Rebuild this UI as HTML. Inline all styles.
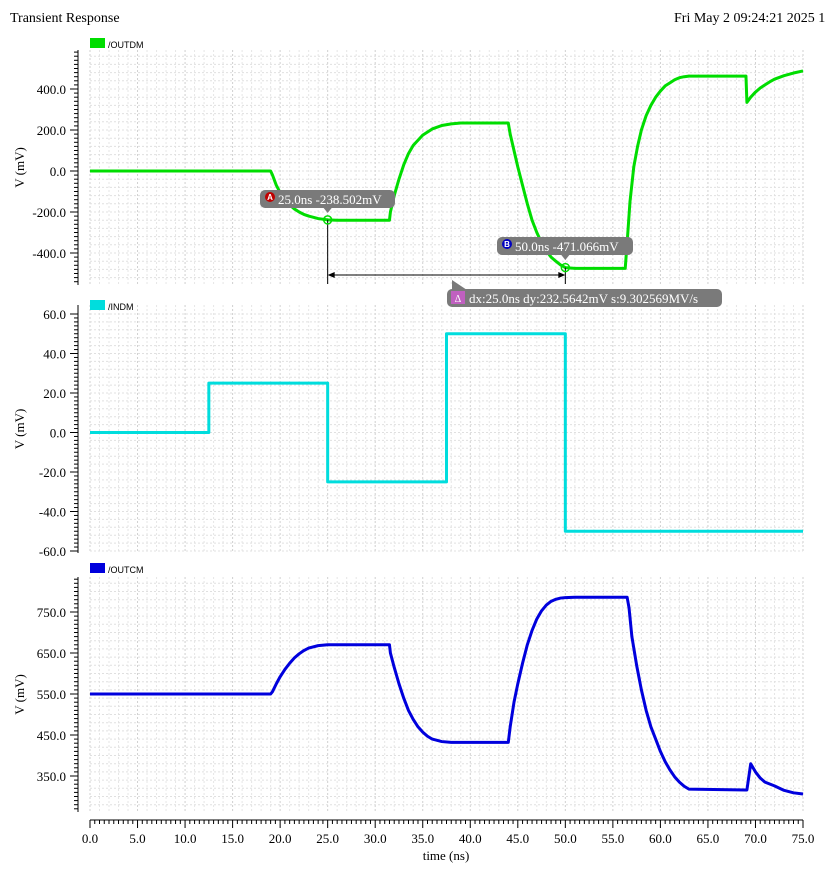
<!DOCTYPE html>
<html><head><meta charset="utf-8"><style>
body{margin:0;background:#fff;}
svg{display:block;font-family:"Liberation Serif",serif;}
</style></head><body>
<svg id="c" width="835" height="869">
<text x="10" y="22" font-size="14">Transient Response</text>
<text x="674" y="22" font-size="14">Fri May 2 09:24:21 2025  1</text>
</svg>
<script>
const outdmT=[0,19,19.2,19.6,20,20.5,21,21.5,22,22.5,23,24,25,26,31.5,31.6,32,32.5,33,33.5,34,35,36,37,38,39,44,44.2,44.6,45,45.5,46,46.5,47,47.5,48,48.5,49,49.5,50,51,56.3,56.5,56.8,57.2,57.6,58,58.5,59,59.5,60,60.5,61,61.5,62,62.5,63,69,69.1,69.5,70,70.5,71,71.5,72,73,74,75];
const outdmV=[0,0,-20,-70,-105,-140,-165,-185,-200,-212,-220,-232,-238.5,-240,-240,-200,-120,-40,30,85,125,175,205,222,230,234,234,180,100,20,-70,-160,-240,-300,-350,-390,-420,-440,-458,-471,-475,-475,-350,-150,20,120,200,270,320,360,390,415,430,445,455,460,463,463,335,360,385,405,420,435,448,465,478,488];
const indmT=[0,12.5,12.5,25,25,37.5,37.5,50,50,75];
const indmV=[0,0,25,25,-25,-25,50,50,-50,-50];
const outcmT=[0,19,19.2,19.6,20,20.5,21,21.5,22,22.5,23,24,25,31.5,31.6,32,32.5,33,33.5,34,34.5,35,35.5,36,37,38,39,44,44.2,44.6,45,45.5,46,46.5,47,47.5,48,48.5,49,49.5,50,51,56.5,56.7,57,57.5,58,58.5,59,59.5,60,60.5,61,61.5,62,62.5,63,69,69.1,69.5,70,70.5,71,72,73,74,75];
const outcmV=[550,550,556,575,592,610,625,638,648,656,662,668,670,670,650,615,575,540,510,488,470,457,447,440,434,432,432,432,470,530,575,625,670,705,733,753,767,776,781,784,785,786,786,760,690,620,560,510,470,440,410,385,365,348,335,325,318,316,316,380,360,345,335,326,315,309,306,304];
const xTicks=[0,5,10,15,20,25,30,35,40,45,50,55,60,65,70,75];
const p1Ticks=[400,200,0,-200,-400];
const p2Ticks=[60,40,20,0,-20,-40,-60];
const p3Ticks=[750,650,550,450,350];

const svg=document.getElementById('c');
const NS='http://www.w3.org/2000/svg';
function el(t,a,p){const e=document.createElementNS(NS,t);for(const k in a)e.setAttribute(k,a[k]);(p||svg).appendChild(e);return e;}
const X0=90,X1=803;
const xs=t=>X0+(t/75)*(X1-X0);
const panels=[
 {name:'outdm',top:50,bot:285,v0:400,y0:89,v1:0,y1:171,min:-560,max:590,grid:40,minor:20,ticks:p1Ticks,T:outdmT,V:outdmV,color:'#00dd00',label:'/OUTDM',ly:38},
 {name:'indm',top:305,bot:553,v0:60,y0:314,v1:-60,y1:551,min:-60,max:60,grid:4,minor:2,ticks:p2Ticks,T:indmT,V:indmV,color:'#00dddd',label:'/INDM',ly:300},
 {name:'outcm',top:577,bot:812,v0:750,y0:612,v1:350,y1:776,min:263,max:840,grid:20,minor:10,ticks:p3Ticks,T:outcmT,V:outcmV,color:'#0000dd',label:'/OUTCM',ly:563}
];
panels.forEach(p=>{
 const ys=v=>p.y0+(v-p.v0)*(p.y1-p.y0)/(p.v1-p.v0);
 const g=el('g',{});
 
 
 for(let t=0;t<=75;t++){el('line',{x1:xs(t),x2:xs(t),y1:p.top,y2:p.bot,stroke:t%5==0?'#d0d0d0':'#e6e6e6','stroke-dasharray':'2,2','stroke-width':1},g);}
 let start=Math.ceil(p.min/p.grid)*p.grid;
 for(let v=start;v<=p.max;v+=p.grid){const y=ys(v);if(y<p.top||y>p.bot)continue;el('line',{x1:X0,x2:X1,y1:y,y2:y,stroke:'#e0e0e0','stroke-dasharray':'2,2'},g);}
 el('line',{x1:78,x2:78,y1:p.top,y2:p.bot,stroke:'#000'},g);
 let ms=Math.ceil(p.min/p.minor)*p.minor;
 for(let v=ms;v<=p.max;v+=p.minor){const y=ys(v);if(y<p.top||y>p.bot)continue;el('line',{x1:74,x2:78,y1:y,y2:y,stroke:'#000'},g);}
 p.ticks.forEach(v=>{const y=ys(v);el('line',{x1:70,x2:78,y1:y,y2:y,stroke:'#000'},g);
  const tx=el('text',{x:66,y:y+5,'font-size':13,'text-anchor':'end'},g);tx.textContent=v.toFixed(1);
  
  });
 const yl=el('text',{x:0,y:0,'font-size':13,'text-anchor':'middle',transform:`translate(24,${(p.top+p.bot)/2}) rotate(-90)`},g);yl.textContent='V (mV)';
 
 
 const lr=el('rect',{x:90,y:p.ly,width:15,height:10,fill:p.color},g);
 
 
 const lt=el('text',{x:108,y:p.ly+10,'font-size':9,'font-family':'Liberation Sans, sans-serif'},g);lt.textContent=p.label;
 
 
 const d=p.T.map((t,i)=>(i?'L':'M')+xs(t).toFixed(2)+' '+ys(p.V[i]).toFixed(2)).join(' ');
 const path=el('path',{d:d,fill:'none',stroke:p.color,'stroke-width':3,'stroke-linejoin':'round'},g);
 
 
 p.ys=ys;
});
const ax=el('g',{});


el('line',{x1:X0,x2:X1,y1:820,y2:820,stroke:'#000'},ax);
for(let t=0;t<=75;t+=0.5){const big=t%5==0;el('line',{x1:xs(t),x2:xs(t),y1:820,y2:big?828:824,stroke:'#000'},ax);}
xTicks.forEach(t=>{const tx=el('text',{x:xs(t),y:843,'font-size':13,'text-anchor':'middle'},ax);tx.textContent=t.toFixed(1);
 
 });
const xt=el('text',{x:446,y:860,'font-size':13,'text-anchor':'middle'},ax);xt.textContent='time (ns)';


const p1=panels[0];
const ax_=xs(25),ay=p1.ys(-238.502),bx=xs(50),by=p1.ys(-471.066);
const mk=el('g',{});


el('line',{x1:ax_,x2:ax_,y1:ay,y2:284,stroke:'#000'},mk);
el('line',{x1:bx,x2:bx,y1:by,y2:284,stroke:'#000'},mk);
el('line',{x1:ax_+2,x2:bx-2,y1:275,y2:275,stroke:'#000'},mk);
el('path',{d:`M${ax_} 275 l7 -3 v6z M${bx} 275 l-7 -3 v6z`,fill:'#000'},mk);
el('circle',{cx:ax_,cy:ay,r:4,fill:'none',stroke:'#00dd00','stroke-width':1.5},mk);
el('circle',{cx:bx,cy:by,r:4,fill:'none',stroke:'#00dd00','stroke-width':1.5},mk);
function label(x,y,w,txt,badge,bcol,name){
 const g=el('g',{},mk);
 
 
 el('rect',{x:x,y:y,width:w,height:18,rx:5,fill:'#7a7a7a'},g);
 el('circle',{cx:x+10,cy:y+7,r:5,fill:bcol},g);
 const b=el('text',{x:x+10,y:y+10,'font-size':8,fill:'#fff','text-anchor':'middle','font-family':'Liberation Sans, sans-serif','font-weight':'bold'},g);b.textContent=badge;
 const t=el('text',{x:x+18,y:y+14,'font-size':13,fill:'#fff'},g);t.textContent=txt;
}
label(260,190,135,'25.0ns -238.502mV','A','#c00000','marker-a-label');
el('path',{d:`M${ax_-4} 208 l4 5 l4 -5z`,fill:'#7a7a7a'},mk);
label(497,237,136,'50.0ns -471.066mV','B','#0000c0','marker-b-label');
el('path',{d:`M${bx-4} 255 l4 5 l4 -5z`,fill:'#7a7a7a'},mk);
const dg=el('g',{},mk);


el('path',{d:'M452 290 l0 -10 l15 10z',fill:'#7a7a7a'},dg);
el('rect',{x:447,y:289,width:275,height:18,rx:5,fill:'#7a7a7a'},dg);
el('rect',{x:451,y:291,width:14,height:13,fill:'#c060c0'},dg);
const dtt=el('text',{x:458,y:302,'font-size':10,fill:'#fff','text-anchor':'middle'},dg);dtt.textContent='Δ';
const dt=el('text',{x:469,y:303,'font-size':13,fill:'#fff'},dg);dt.textContent='dx:25.0ns dy:232.5642mV s:9.302569MV/s';
</script>
</body></html>
